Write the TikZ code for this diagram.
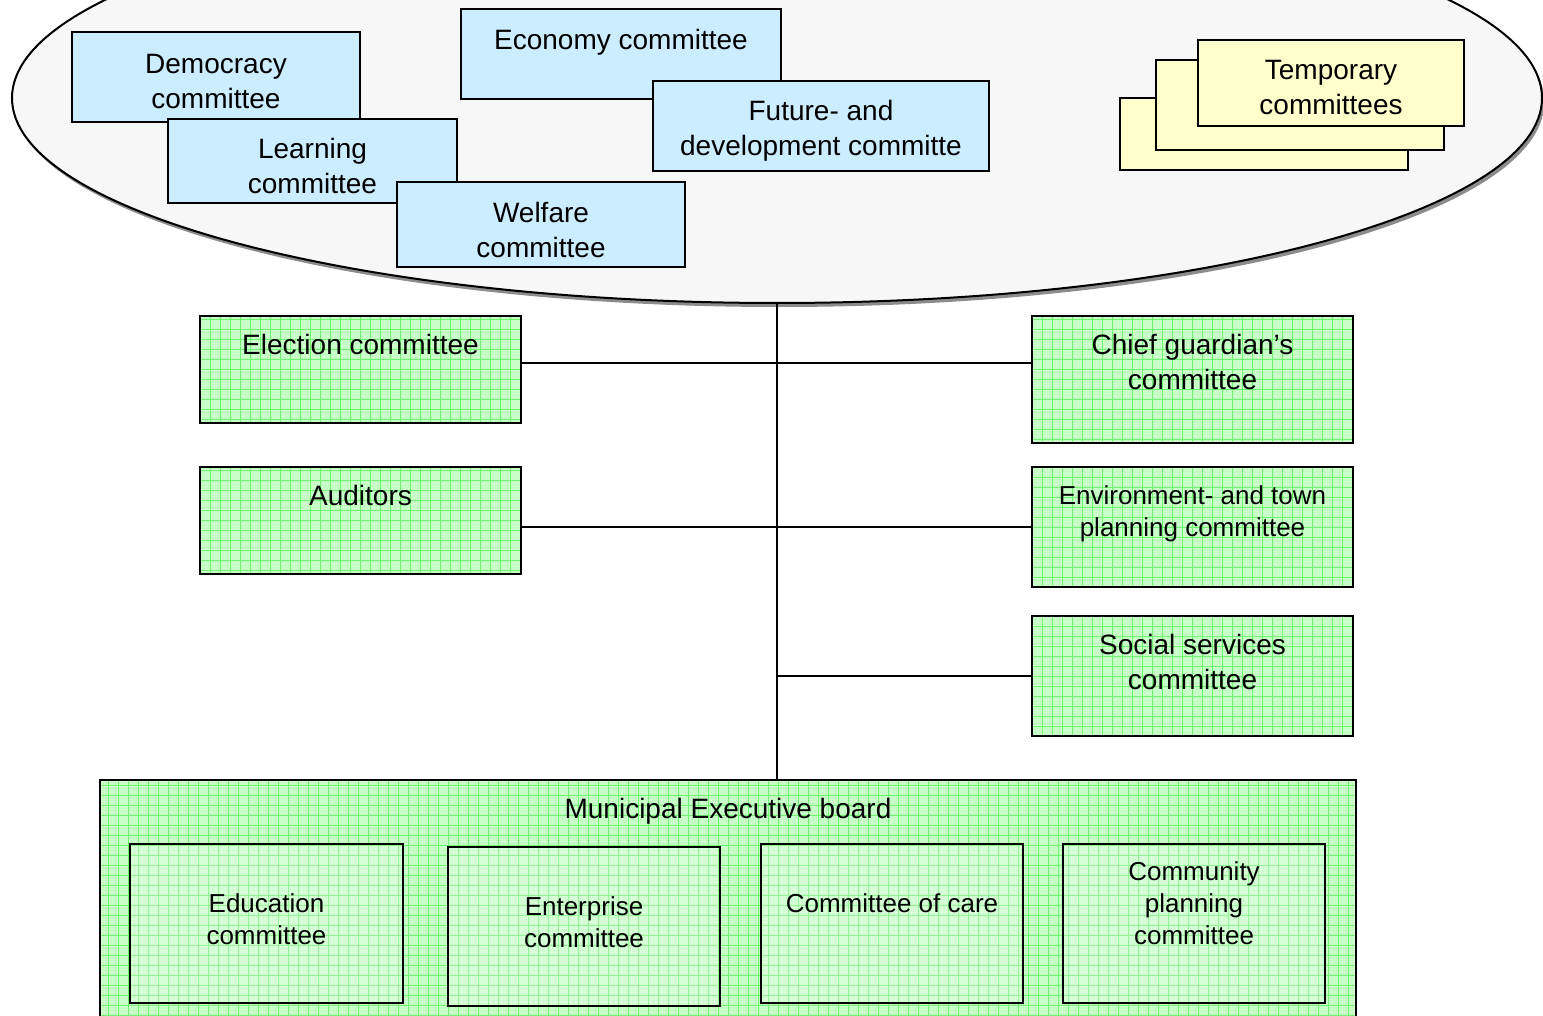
\documentclass[tikz,border=0pt]{standalone}
\usepackage{fontspec}
\setmainfont{Liberation Sans}
\usetikzlibrary{shapes.geometric,shadows}
\definecolor{bluebox}{RGB}{204,236,255}
\definecolor{yellowbox}{RGB}{255,255,204}
\definecolor{greenbox}{RGB}{200,255,200}
\definecolor{greengrid}{RGB}{110,245,110}
\definecolor{councilgray}{RGB}{247,247,247}
\tikzset{
  box/.style={draw,line width=1pt,rectangle,inner sep=0pt,align=center},
  bluecom/.style={box,fill=bluebox},
  tempcom/.style={box,fill=yellowbox},
  greencom/.style={box,fill=greenbox,path picture={\draw[greengrid,line width=.45pt] (path picture bounding box.south west) grid[step=5pt] (path picture bounding box.north east);}},
  subcom/.style={box,fill=white,fill opacity=.25,text opacity=1},
  toptext/.style={anchor=north,yshift=-9.5pt,inner sep=0pt,align=center},
  midtext/.style={inner sep=0pt,align=center,yshift=-2.5pt},
  small/.style={font=\fontsize{13}{16}\selectfont},
  link/.style={line width=1pt},
}
\begin{document}
\begin{tikzpicture}[x=.5pt,y=-.5pt,every node/.append style={font=\fontsize{14}{17.5}\selectfont}]
\useasboundingbox (0,0) rectangle (1543,1016);
% the council
\node[ellipse,draw,line width=1pt,fill=councilgray,minimum width=765pt,minimum height=205pt,inner sep=0pt,
  drop shadow={shadow xshift=1.2pt,shadow yshift=-2pt,fill=black!45,opacity=1}] (council) at (777,98) {};
\node[bluecom,minimum width=144pt,minimum height=45pt,label={[midtext]center:{Democracy\\committee}}] (democracy) at (216,77) {};
\node[bluecom,minimum width=144.5pt,minimum height=42pt,label={[midtext]center:{Learning\\committee}}] (learning) at (312.5,161) {};
\node[bluecom,minimum width=144pt,minimum height=42.5pt,label={[midtext]center:{Welfare\\committee}}] (welfare) at (541,224.5) {};
\node[bluecom,minimum width=160pt,minimum height=45pt,label={[toptext,yshift=-1pt]north:Economy committee}] (economy) at (621,54) {};
\node[bluecom,minimum width=168pt,minimum height=45pt,label={[midtext]center:{Future- and\\development committe}}] (future) at (821,126) {};
%
\node[tempcom,minimum width=144pt,minimum height=36pt] (temp3) at (1264,134) {};
\node[tempcom,minimum width=144pt,minimum height=45pt] (temp2) at (1300,105) {};
\node[tempcom,minimum width=133pt,minimum height=43pt,label={[midtext]center:{Temporary\\committees}}] (temp1) at (1331,83) {};
% committees under the council
\node[greencom,minimum width=160.5pt,minimum height=53.5pt,label={[toptext]north:Election committee}] (election) at (360.5,369.5) {};
\node[greencom,minimum width=160.5pt,minimum height=53.5pt,label={[toptext]north:Auditors}] (auditors) at (360.5,520.5) {};
\node[greencom,minimum width=160.5pt,minimum height=63.5pt,label={[toptext]north:{Chief guardian’s\\committee}}] (guardian) at (1192.5,379.5) {};
\node[greencom,minimum width=160.5pt,minimum height=60pt,label={[toptext,small]north:{Environment- and town\\planning committee}}] (environment) at (1192.5,527) {};
\node[greencom,minimum width=160.5pt,minimum height=60pt,label={[toptext]north:{Social services\\committee}}] (social) at (1192.5,676) {};
% executive board
\node[greencom,minimum width=628pt,minimum height=125pt,label={[toptext]north:Municipal Executive board}] (board) at (728,905) {};
\node[subcom,minimum width=136.5pt,minimum height=79.5pt,label={[midtext,small,yshift=4.5pt]center:{Education\\committee}}] (education) at (266.5,923.5) {};
\node[subcom,minimum width=136pt,minimum height=79.5pt,label={[midtext,small,yshift=4.5pt]center:{Enterprise\\committee}}] (enterprise) at (584,926.5) {};
\node[subcom,minimum width=131pt,minimum height=79.5pt,label={[toptext,small,yshift=-15.4pt]north:Committee of care}] (care) at (892,923.5) {};
\node[subcom,minimum width=131pt,minimum height=79.5pt,label={[toptext,small,yshift=.4pt]north:{Community\\planning\\committee}}] (community) at (1194,923.5) {};
%
\draw[link] (council.south) -- (council.south |- board.north);
\draw[link] ([yshift=3pt]election.east) -- ([yshift=3pt]election.east -| guardian.west);
\draw[link] (environment.west) -- (environment.west -| auditors.east);
\draw[link] (social.west) -- (social.west -| council.south);
\end{tikzpicture}
\end{document}
